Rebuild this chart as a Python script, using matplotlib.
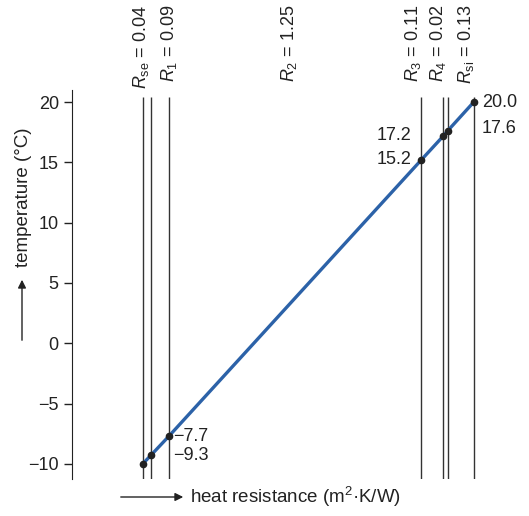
import matplotlib.pyplot as plt
import matplotlib.transforms as mtransforms
import numpy as np

plt.rcParams['font.family'] = ['Liberation Sans', 'DejaVu Sans']
plt.rcParams['mathtext.fontset'] = 'custom'
plt.rcParams['mathtext.rm'] = 'Liberation Sans'
plt.rcParams['mathtext.it'] = 'Liberation Sans:italic'

# layer resistances (m2K/W) and interface temperatures (°C)
r_names = ['se', '1', '2', '3', '4', 'si']
r_values = [0.04, 0.09, 1.25, 0.11, 0.02, 0.13]
temps = [-10.0, -9.3, -7.7, 15.2, 17.2, 17.6, 20.0]
temp_labels = ['\u22127.7', '\u22129.3', '15.2', '17.2', '17.6', '20.0']
yticks = [-10, -5, 0, 5, 10, 15, 20]

cum = np.concatenate([[0.0], np.cumsum(r_values)])

fig = plt.figure(figsize=(5.29, 5.16), dpi=100)
ax = fig.add_axes([72 / 529, 37 / 516, 428 / 529, 389 / 516])
ax.set_xlim(-0.35, 1.77)
ax.set_ylim(-11.25, 21.0)

# layer boundaries
ax.vlines(cum, -11.25, 20.45, color='#333333', linewidth=1.0)

# temperature line
ax.plot(cum, temps, color='#2c62a8', linewidth=2.4, zorder=3)
ax.plot(cum, temps, 'o', color='#222222', markersize=4.5, zorder=4)

# point labels
fs = 13
ax.annotate(temp_labels[0], (cum[2], temps[2]), xytext=(3, 0), textcoords='offset points',
            ha='left', va='center', fontsize=fs, color='#222222')
ax.annotate(temp_labels[1], (cum[2], temps[1]), xytext=(3, 0), textcoords='offset points',
            ha='left', va='center', fontsize=fs, color='#222222')
ax.annotate(temp_labels[2], (cum[3], temps[3]), xytext=(-7, 0), textcoords='offset points',
            ha='right', va='center', fontsize=fs, color='#222222')
ax.annotate(temp_labels[3], (cum[3], temps[4]), xytext=(-7, 0), textcoords='offset points',
            ha='right', va='center', fontsize=fs, color='#222222')
ax.annotate(temp_labels[4], (cum[6], temps[5]), xytext=(6, 2), textcoords='offset points',
            ha='left', va='center', fontsize=fs, color='#222222')
ax.annotate(temp_labels[5], (cum[6], temps[6]), xytext=(6, 0), textcoords='offset points',
            ha='left', va='center', fontsize=fs, color='#222222')

# layer labels on top
trans = mtransforms.blended_transform_factory(ax.transData, fig.transFigure)
label_shift = [-0.05, 0.0, -0.655, -0.15, -0.045, -0.04]
for i, (n, v) in enumerate(zip(r_names, r_values)):
    ax.text(cum[i + 1] + label_shift[i], 1 - 5 / 516, f'$R_{{\\mathrm{{{n}}}}}$ = {v:.2f}',
            transform=trans, rotation=90, ha='center', va='top', fontsize=fs, color='#222222')

# axes styling
for s in ['top', 'right', 'bottom']:
    ax.spines[s].set_visible(False)
ax.spines['left'].set_color('#222222')
ax.set_xticks([])
ax.set_yticks(yticks)
ax.set_yticklabels([str(t).replace('-', '\u2212') for t in yticks])
ax.tick_params(axis='y', length=6, width=1, labelsize=fs, colors='#222222')

# axis labels with arrows
fig.text(24 / 529, 1 - 197 / 516, 'temperature (°C)', rotation=90, ha='center', va='center',
         fontsize=13.5, color='#222222')
fig.add_artist(plt.Annotation('', xy=(22 / 529, 1 - 277 / 516), xytext=(22 / 529, 1 - 343 / 516),
                              xycoords='figure fraction',
                              arrowprops=dict(arrowstyle='-|>', color='#222222', lw=1,
                                              mutation_scale=12)))
fig.text(190 / 529, 1 - 497 / 516, 'heat resistance (m$^{2}$·K/W)', ha='left', va='center',
         fontsize=13.5, color='#222222')
fig.add_artist(plt.Annotation('', xy=(186 / 529, 1 - 497 / 516), xytext=(118 / 529, 1 - 497 / 516),
                              xycoords='figure fraction',
                              arrowprops=dict(arrowstyle='-|>', color='#222222', lw=1,
                                              mutation_scale=12)))

fig.savefig('out.png', dpi=100)
